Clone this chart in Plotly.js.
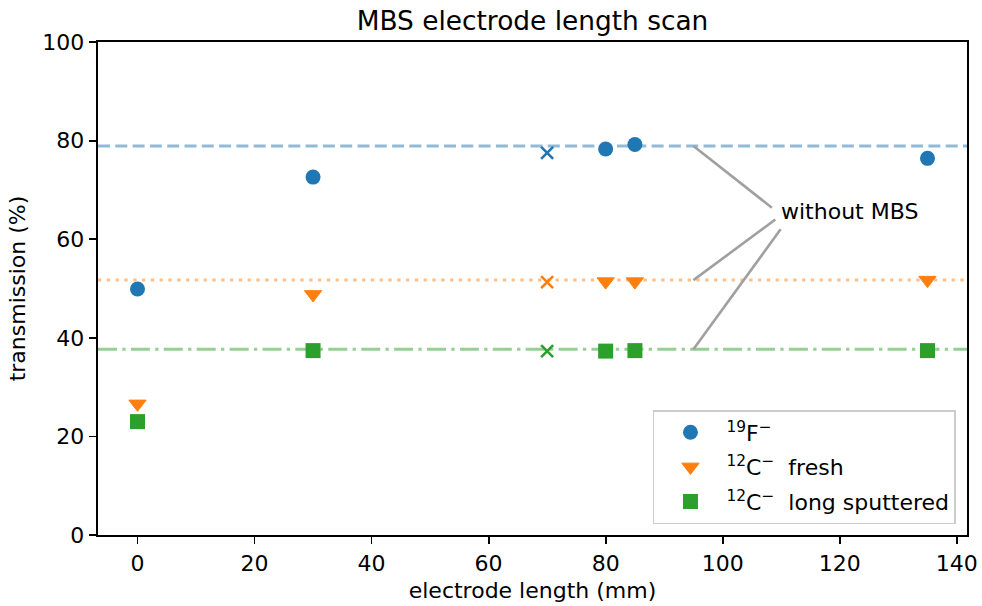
<!DOCTYPE html>
<html>
<head>
<meta charset="utf-8">
<script src="https://cdn.plot.ly/plotly-3.0.1.min.js"></script>
<style>
  html, body { margin: 0; padding: 0; background: #ffffff; }
  #chart { width: 982px; height: 606px; }
</style>
</head>
<body>
<div id="chart"></div>
<script>
// Electrode lengths (mm) measured with the MBS in place
const lengthsMBS = [0, 30, 80, 85, 135];
// Transmission (%) per beam
const fluorine = [49.9, 72.6, 78.3, 79.2, 76.4];
const carbonFresh = [26.6, 48.8, 51.4, 51.4, 51.7];
const carbonLong = [23.0, 37.4, 37.3, 37.4, 37.4];

// Extra check points at 70 mm (crosses)
const lengthCheck = [70];
const fluorineCheck = [77.5];
const carbonFreshCheck = [51.3];
const carbonLongCheck = [37.3];

// Reference transmission without the MBS
const refFluorine = 78.9;
const refCarbonFresh = 51.7;
const refCarbonLong = 37.7;

// Legend labels
const seriesNames = [
  '<sup>19</sup>F<sup>\u2212</sup>',
  '<sup>12</sup>C<sup>\u2212</sup>\u00a0 fresh',
  '<sup>12</sup>C<sup>\u2212</sup>\u00a0 long sputtered'
];

// Annotation: label position and where its leader lines start / end (data units)
const noteText = 'without MBS';
const noteX = 109.7;
const noteY = 65.6;
const leaderStartX = 95;
const leaderEndX = [108.4, 109.0, 109.9];
const leaderEndY = [66.4, 64.0, 62.0];

const C0 = '#1f77b4', C1 = '#ff7f0e', C2 = '#2ca02c';
const FONT = 'DejaVu Sans, Liberation Sans, sans-serif';

const traces = [
  { x: lengthsMBS, y: fluorine, name: seriesNames[0], mode: 'markers', type: 'scatter',
    legendgroup: 'a', marker: { symbol: 'circle', size: 15, color: C0 } },
  { x: lengthsMBS, y: carbonFresh, name: seriesNames[1], mode: 'markers', type: 'scatter',
    legendgroup: 'b', marker: { symbol: 'triangle-down', size: 15, color: C1,
    line: { color: C1, width: 1 } } },
  { x: lengthsMBS, y: carbonLong, name: seriesNames[2], mode: 'markers', type: 'scatter',
    legendgroup: 'c', marker: { symbol: 'square', size: 15, color: C2 } },
  { x: lengthCheck, y: fluorineCheck, mode: 'markers', type: 'scatter', showlegend: false,
    marker: { symbol: 'x-thin-open', size: 12, color: C0, line: { color: C0, width: 2.6 } } },
  { x: lengthCheck, y: carbonFreshCheck, mode: 'markers', type: 'scatter', showlegend: false,
    marker: { symbol: 'x-thin-open', size: 12, color: C1, line: { color: C1, width: 2.6 } } },
  { x: lengthCheck, y: carbonLongCheck, mode: 'markers', type: 'scatter', showlegend: false,
    marker: { symbol: 'x-thin-open', size: 12, color: C2, line: { color: C2, width: 2.6 } } }
];

// Horizontal reference lines across the full axes width
const refLines = [
  { y: refFluorine, color: 'rgba(31,119,180,0.5)', dash: '12px,5.3px' },
  { y: refCarbonFresh, color: 'rgba(255,127,14,0.5)', dash: '3.3px,5.5px' },
  { y: refCarbonLong, color: 'rgba(44,160,44,0.5)', dash: '19px,5.3px,3.3px,5.3px' }
];
const shapes = refLines.map(r => ({
  type: 'line', xref: 'paper', yref: 'y', x0: 0, x1: 1, y0: r.y, y1: r.y,
  layer: 'below', line: { color: r.color, width: 3, dash: r.dash }
}));
// Grey leader lines from each reference line to the label
[refFluorine, refCarbonFresh, refCarbonLong].forEach((y, i) => {
  shapes.push({
    type: 'line', xref: 'x', yref: 'y', x0: leaderStartX, y0: y,
    x1: leaderEndX[i], y1: leaderEndY[i], layer: 'above',
    line: { color: '#a0a0a0', width: 2.6 }
  });
});

const axisCommon = {
  showline: true, mirror: true, linecolor: '#000', linewidth: 1.8,
  ticks: 'outside', ticklen: 7.5, tickwidth: 1.8, tickcolor: '#000',
  showgrid: false, zeroline: false,
  tickfont: { family: FONT, size: 22, color: '#000' }
};

const layout = {
  width: 982, height: 606,
  margin: { l: 97.5, r: 15, t: 42, b: 71 },
  paper_bgcolor: '#fff', plot_bgcolor: '#fff',
  font: { family: FONT, color: '#000' },
  title: { text: 'MBS electrode length scan', font: { family: FONT, size: 26.4, color: '#000' },
           x: 0.5, xanchor: 'center', xref: 'paper', y: 0.965, yref: 'container', yanchor: 'middle' },
  xaxis: Object.assign({}, axisCommon, {
    range: [-6.75, 141.75], tick0: 0, dtick: 20,
    title: { text: 'electrode length (mm)', font: { family: FONT, size: 22, color: '#000' }, standoff: 8 }
  }),
  yaxis: Object.assign({}, axisCommon, {
    range: [0, 100], tick0: 0, dtick: 20,
    title: { text: 'transmission (%)', font: { family: FONT, size: 22, color: '#000' }, standoff: 10 }
  }),
  legend: {
    x: 0.9873, xanchor: 'right', y: 0.0223, yanchor: 'bottom',
    bgcolor: 'rgba(255,255,255,0.8)', bordercolor: '#cccccc', borderwidth: 1.5,
    font: { family: FONT, size: 22, color: '#000' },
    tracegroupgap: 3, itemwidth: 62
  },
  shapes: shapes,
  annotations: [{
    x: noteX, y: noteY, xref: 'x', yref: 'y', text: noteText, showarrow: false,
    xanchor: 'left', yanchor: 'middle', font: { family: FONT, size: 22, color: '#000' }
  }]
};

Plotly.newPlot('chart', traces, layout, { displayModeBar: false, staticPlot: true });
</script>
</body>
</html>
